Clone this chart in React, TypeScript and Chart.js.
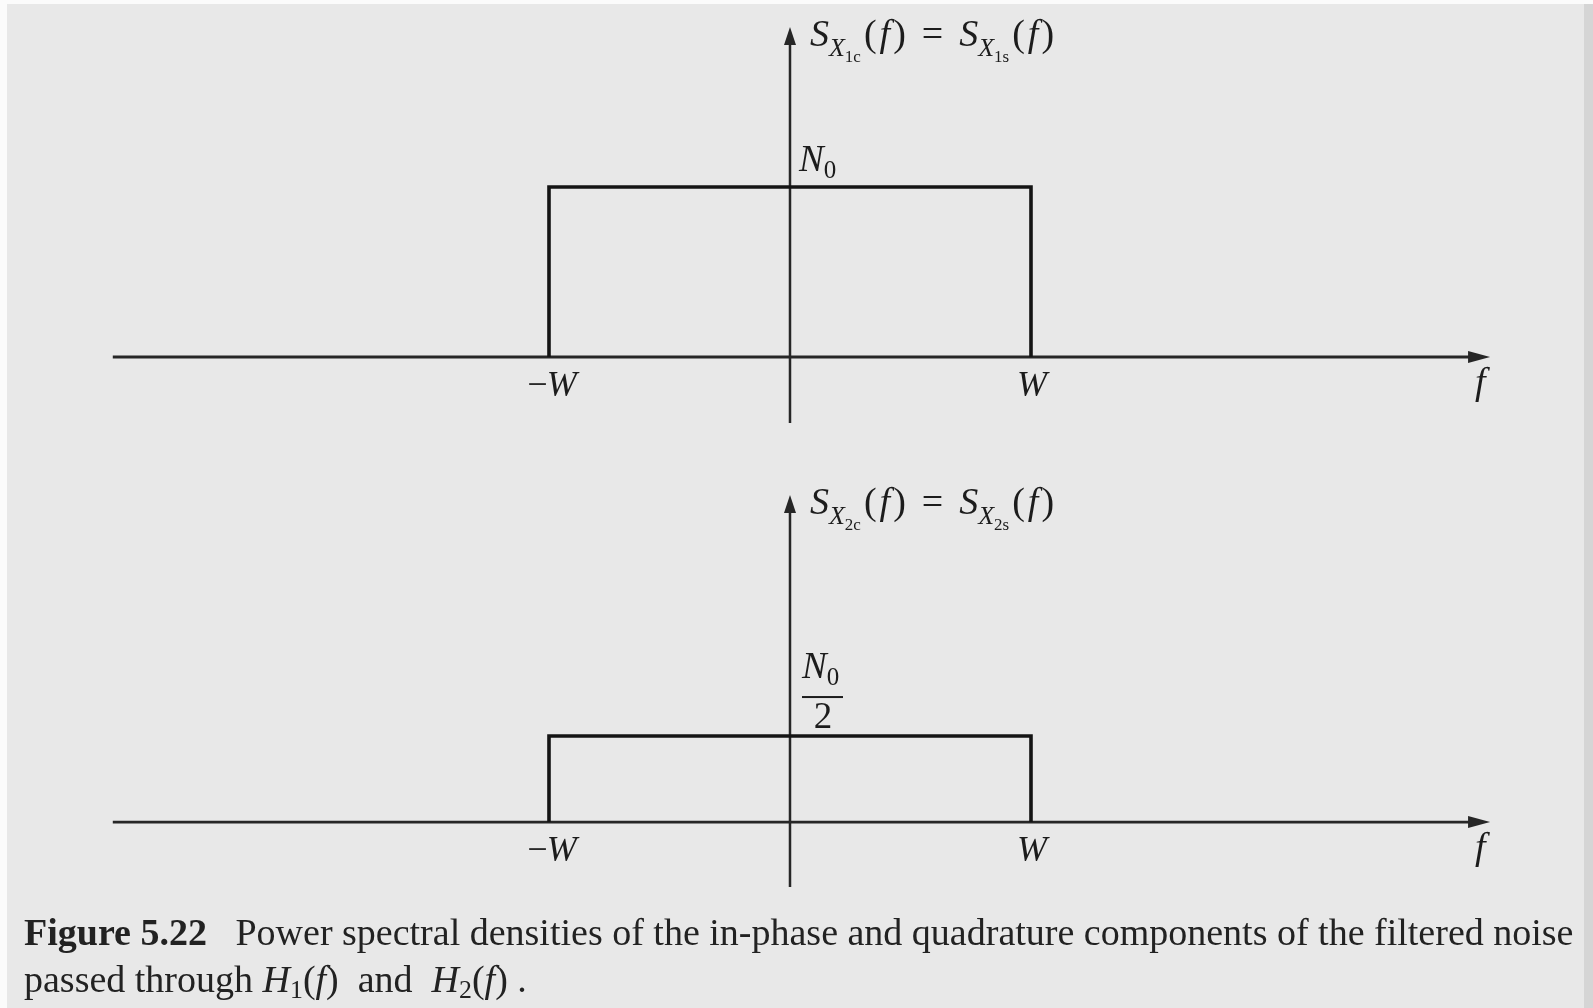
import React, { useEffect, useRef } from "react";
import { Chart, registerables } from "chart.js";

Chart.register(...registerables);

// Frequencies in units of the band edge W, PSD levels in units of N0
const bandFreqs = [-1, -1, 1, 1];
const psdInPhase = [0, 1, 1, 0]; // S_X1c(f) = S_X1s(f): height N0
const psdQuadrature = [0, 0.5, 0.5, 0]; // S_X2c(f) = S_X2s(f): height N0/2
const freqTickValues = [-1, 1];
const freqTickLabels = ["\u2212W", "W"];
const axisFreqRange = [-2.81, 2.905];
const topAxisLevels = [-0.388, 1.941];
const bottomAxisLevels = [-0.378, 1.901];

const SERIF = "'Liberation Serif', 'Times New Roman', serif";
const INK = "#1c1c1c";
const PAPER = "#e8e8e8";

type Run = { t: string; size: number; italic?: boolean; bold?: boolean; dy?: number; dx?: number };

function fontOf(r: Run) {
  return `${r.italic ? "italic " : ""}${r.bold ? "bold " : ""}${r.size}px ${SERIF}`;
}

function runsWidth(ctx: CanvasRenderingContext2D, runs: Run[]) {
  let w = 0;
  for (const r of runs) {
    ctx.font = fontOf(r);
    w += (r.dx ?? 0) + ctx.measureText(r.t).width;
  }
  return w;
}

function drawRuns(ctx: CanvasRenderingContext2D, x: number, y: number, runs: Run[]) {
  let cx = x;
  for (const r of runs) {
    ctx.font = fontOf(r);
    cx += r.dx ?? 0;
    ctx.fillText(r.t, cx, y + (r.dy ?? 0));
    cx += ctx.measureText(r.t).width;
  }
  return cx;
}

function psdTitle(sub: string, c: string, s: string): Run[] {
  const big = 38;
  return [
    { t: "S", size: big, italic: true },
    { t: "X", size: 26, italic: true, dy: 10 },
    { t: sub + c, size: 17, dy: 16 },
    { t: "(", size: big, dx: 3 },
    { t: "f", size: big, italic: true, dx: 3 },
    { t: ")", size: big, dx: 3 },
    { t: "=", size: big, dx: 16 },
    { t: "S", size: big, italic: true, dx: 16 },
    { t: "X", size: 26, italic: true, dy: 10 },
    { t: sub + s, size: 17, dy: 16 },
    { t: "(", size: big, dx: 3 },
    { t: "f", size: big, italic: true, dx: 3 },
    { t: ")", size: big, dx: 3 },
  ];
}

function arrowRight(ctx: CanvasRenderingContext2D, x: number, y: number) {
  ctx.beginPath();
  ctx.moveTo(x, y);
  ctx.lineTo(x - 22, y - 6);
  ctx.lineTo(x - 22, y + 6);
  ctx.closePath();
  ctx.fill();
}

function arrowUp(ctx: CanvasRenderingContext2D, x: number, y: number) {
  ctx.beginPath();
  ctx.moveTo(x, y);
  ctx.lineTo(x - 6, y + 18);
  ctx.lineTo(x + 6, y + 18);
  ctx.closePath();
  ctx.fill();
}

const diagramPlugin = {
  id: "psdDiagram",
  beforeDraw(chart: any) {
    const ctx: CanvasRenderingContext2D = chart.ctx;
    const { width, height } = chart;
    ctx.save();
    ctx.fillStyle = "#fbfbfb";
    ctx.fillRect(0, 0, width, height);
    ctx.fillStyle = PAPER;
    ctx.fillRect(7, 4, width - 7, height - 4);
    ctx.fillStyle = "#d5d5d5";
    ctx.fillRect(width - 9, 4, 9, height - 4);
    ctx.restore();
  },
  beforeDatasetsDraw(chart: any) {
    const ctx: CanvasRenderingContext2D = chart.ctx;
    const xs = chart.scales.x;
    const panels = [
      { ys: chart.scales.y, levels: topAxisLevels },
      { ys: chart.scales.y2, levels: bottomAxisLevels },
    ];
    ctx.save();
    ctx.strokeStyle = "#262626";
    ctx.fillStyle = "#262626";
    const x0 = xs.getPixelForValue(0);
    for (const p of panels) {
      const y0 = p.ys.getPixelForValue(0);
      const xl = xs.getPixelForValue(axisFreqRange[0]);
      const xr = xs.getPixelForValue(axisFreqRange[1]);
      ctx.lineWidth = 2.8;
      ctx.beginPath();
      ctx.moveTo(xl, y0);
      ctx.lineTo(xr - 12, y0);
      ctx.stroke();
      arrowRight(ctx, xr, y0);
      const yb = p.ys.getPixelForValue(p.levels[0]);
      const yt = p.ys.getPixelForValue(p.levels[1]);
      ctx.lineWidth = 2.5;
      ctx.beginPath();
      ctx.moveTo(x0, yb);
      ctx.lineTo(x0, yt + 10);
      ctx.stroke();
      arrowUp(ctx, x0, yt);
    }
    ctx.restore();
  },
  afterDatasetsDraw(chart: any) {
    const ctx: CanvasRenderingContext2D = chart.ctx;
    const xs = chart.scales.x;
    const x0 = xs.getPixelForValue(0);
    ctx.save();
    ctx.fillStyle = INK;
    ctx.textBaseline = "alphabetic";

    const panels = [
      { ys: chart.scales.y, levels: topAxisLevels, title: psdTitle("1", "c", "s"), level: psdInPhase[1] },
      { ys: chart.scales.y2, levels: bottomAxisLevels, title: psdTitle("2", "c", "s"), level: psdQuadrature[1] },
    ];
    panels.forEach((p, i) => {
      const y0 = p.ys.getPixelForValue(0);
      const yt = p.ys.getPixelForValue(p.levels[1]);
      // axis title
      drawRuns(ctx, x0 + 20, yt + 19, p.title);
      // frequency tick labels
      freqTickValues.forEach((v, k) => {
        const label = freqTickLabels[k];
        const neg = label.startsWith("\u2212");
        const runs: Run[] = neg
          ? [{ t: "\u2212", size: 36 }, { t: "W", size: 36, italic: true, dx: -1 }]
          : [{ t: "W", size: 36, italic: true }];
        const w = runsWidth(ctx, runs);
        const px = xs.getPixelForValue(v);
        const cx = neg ? px + 3 : px + 1;
        drawRuns(ctx, cx - w / 2, y0 + 39, runs);
      });
      // frequency axis name
      drawRuns(ctx, xs.getPixelForValue(axisFreqRange[1]) - 15, y0 + 37, [{ t: "f", size: 38, italic: true }]);
      // level label
      const yl = p.ys.getPixelForValue(p.level);
      if (i === 0) {
        drawRuns(ctx, x0 + 9, yl - 16, [
          { t: "N", size: 37, italic: true },
          { t: "0", size: 25, dy: 7 },
        ]);
      } else {
        const left = x0 + 12;
        drawRuns(ctx, left, yl - 58, [
          { t: "N", size: 37, italic: true },
          { t: "0", size: 25, dy: 7 },
        ]);
        ctx.fillRect(left, yl - 40, 41, 2);
        ctx.font = `37px ${SERIF}`;
        const w2 = ctx.measureText("2").width;
        ctx.fillText("2", left + 21 - w2 / 2, yl - 8);
      }
    });

    // caption
    const line1: Run[] = [
      { t: "Figure 5.22", size: 33, bold: true },
      { t: "   Power spectral densities of the in-phase and quadrature components of the filtered noise", size: 33 },
    ];
    const target = 1550;
    const scale = target / runsWidth(ctx, line1);
    const fs = 33 * scale;
    const l1 = line1.map((r) => ({ ...r, size: fs }));
    ctx.fillStyle = "#222222";
    drawRuns(ctx, 24, 945, l1);
    const sub = fs * 0.68;
    drawRuns(ctx, 24, 992, [
      { t: "passed through ", size: fs },
      { t: "H", size: fs, italic: true },
      { t: "1", size: sub, dy: 6 },
      { t: "(", size: fs },
      { t: "f", size: fs, italic: true },
      { t: ")", size: fs },
      { t: "  and  ", size: fs },
      { t: "H", size: fs, italic: true },
      { t: "2", size: sub, dy: 6 },
      { t: "(", size: fs },
      { t: "f", size: fs, italic: true },
      { t: ")", size: fs },
      { t: " .", size: fs },
    ]);
    ctx.restore();
  },
};

export default function App() {
  const canvasRef = useRef<HTMLCanvasElement | null>(null);

  useEffect(() => {
    document.body.style.margin = "0";
    const canvas = canvasRef.current;
    if (!canvas) return;
    const chart = new Chart(canvas, {
      type: "line",
      data: {
        datasets: [
          {
            label: "S_X1c(f) = S_X1s(f)",
            data: bandFreqs.map((f, i) => ({ x: f, y: psdInPhase[i] })),
            yAxisID: "y",
            borderColor: "#141414",
            borderWidth: 3.6,
            pointRadius: 0,
            tension: 0,
            fill: false,
            borderJoinStyle: "miter",
          },
          {
            label: "S_X2c(f) = S_X2s(f)",
            data: bandFreqs.map((f, i) => ({ x: f, y: psdQuadrature[i] })),
            yAxisID: "y2",
            borderColor: "#141414",
            borderWidth: 3.6,
            pointRadius: 0,
            tension: 0,
            fill: false,
            borderJoinStyle: "miter",
          },
        ],
      },
      options: {
        responsive: false,
        maintainAspectRatio: false,
        devicePixelRatio: 1,
        animation: false,
        layout: { padding: 0 },
        plugins: { legend: { display: false }, tooltip: { enabled: false } },
        scales: {
          x: { type: "linear", display: false, min: -3.278, max: 3.332 },
          y: { type: "linear", display: false, min: -3.829, max: 2.1 },
          y2: { type: "linear", display: false, min: -1.081, max: 4.779 },
        },
      },
      plugins: [diagramPlugin],
    } as any);
    return () => chart.destroy();
  }, []);

  return (
    <div style={{ position: "fixed", left: 0, top: 0, width: 1593, height: 1008 }}>
      <canvas ref={canvasRef} width={1593} height={1008} style={{ width: 1593, height: 1008, display: "block" }} />
    </div>
  );
}
